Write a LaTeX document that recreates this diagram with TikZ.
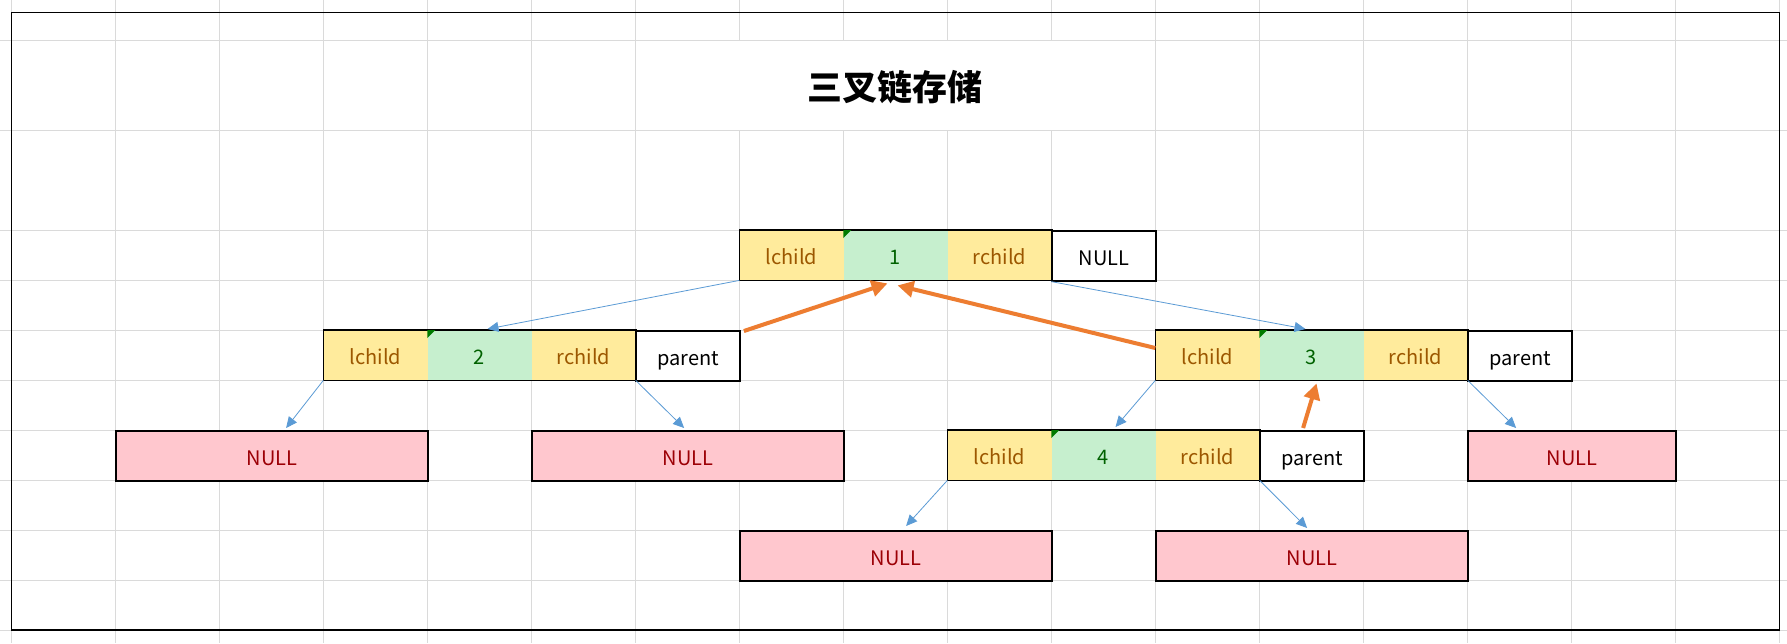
\documentclass[tikz,border=0pt]{standalone}
\usepackage{fontspec}
\setmainfont{Noto Sans CJK SC}
\usetikzlibrary{arrows.meta,calc}
\definecolor{gridc}{HTML}{DADADA}
\definecolor{yfill}{HTML}{FFEB9C}
\definecolor{ytext}{HTML}{9C5700}
\definecolor{gfill}{HTML}{C6EFCE}
\definecolor{gtext}{HTML}{006100}
\definecolor{pfill}{HTML}{FFC7CE}
\definecolor{ptext}{HTML}{9C0006}
\definecolor{blu}{HTML}{5B9BD5}
\definecolor{org}{HTML}{ED7D31}
\definecolor{tri}{HTML}{007A00}
\begin{document}
\begin{tikzpicture}[x=1pt,y=-1pt,
  cell/.style={minimum width=104pt, minimum height=50pt, inner sep=0pt, anchor=north west,
    text height=20pt, text depth=1.4pt, font=\fontsize{20}{24}\selectfont},
  ycell/.style={cell, fill=yfill, text=ytext},
  gcell/.style={cell, fill=gfill, text=gtext},
  wcell/.style={cell, fill=white, draw=black, line width=1.6pt, text=black},
  ncell/.style={cell, minimum width=#1, fill=pfill, draw=black, line width=1.6pt, text=ptext},
  grpbox/.style={draw=black, line width=1.6pt},
  gridline/.style={draw=gridc, line width=1pt},
  bluearrow/.style={draw=blu, line width=0.8pt, -{Triangle[length=11pt,width=10pt]}},
  orgarrow/.style={draw=org, line width=4pt, -{Triangle[length=16pt,width=16pt]}},
  marker/.style={fill=tri},
  titlestyle/.style={font=\fontsize{35}{40}\selectfont\bfseries, inner sep=0pt}
]
\useasboundingbox (0,0) rectangle (1787,643);
\fill[white] (0,0) rectangle (1787,643);
% grid
\foreach \i in {0,1,2,3,4,5,6,11,12,13,14,15,16,17}
  \draw[gridline] ({11.3+104*\i},0) -- ({11.3+104*\i},643);
\foreach \i in {7,8,9,10}{
  \draw[gridline] ({11.3+104*\i},0) -- ({11.3+104*\i},40);
  \draw[gridline] ({11.3+104*\i},130) -- ({11.3+104*\i},643);
}
\foreach \y in {40,130,230,280,330,380,430,480,530,580,630}
  \draw[gridline] (0,\y) -- (1787,\y);
% frame
\draw[line width=1.6pt] (11.3,12.3) rectangle (1779.3,630);
% title
\node[titlestyle] (title) at (895.3,87.5) {三叉链存储};

% node 1
\node[ycell] (n1l) at (739.3,230) {lchild};
\node[gcell] (n1v) at (843.3,230) {1};
\node[ycell] (n1r) at (947.3,230) {rchild};
\node[wcell] (n1n) at (1051.3,230) {NULL};
\draw[grpbox] (n1l.north west) rectangle (n1r.south east);
\fill[marker] (n1v.north west) -- ++(8,0) -- ++(-8,8) -- cycle;

% node 2
\node[ycell] (n2l) at (323.3,330) {lchild};
\node[gcell] (n2v) at (427.3,330) {2};
\node[ycell] (n2r) at (531.3,330) {rchild};
\node[wcell] (n2p) at (635.3,330) {parent};
\draw[grpbox] (n2l.north west) rectangle (n2r.south east);
\fill[marker] (n2v.north west) -- ++(8,0) -- ++(-8,8) -- cycle;

% node 3
\node[ycell] (n3l) at (1155.3,330) {lchild};
\node[gcell] (n3v) at (1259.3,330) {3};
\node[ycell] (n3r) at (1363.3,330) {rchild};
\node[wcell] (n3p) at (1467.3,330) {parent};
\draw[grpbox] (n3l.north west) rectangle (n3r.south east);
\fill[marker] (n3v.north west) -- ++(8,0) -- ++(-8,8) -- cycle;

% node 4
\node[ycell] (n4l) at (947.3,430) {lchild};
\node[gcell] (n4v) at (1051.3,430) {4};
\node[ycell] (n4r) at (1155.3,430) {rchild};
\node[wcell] (n4p) at (1259.3,430) {parent};
\draw[grpbox] (n4l.north west) rectangle (n4r.south east);
\fill[marker] (n4v.north west) -- ++(8,0) -- ++(-8,8) -- cycle;

% NULL boxes
\node[ncell=312pt] (na) at (115.3,430) {NULL};
\node[ncell=312pt] (nb) at (531.3,430) {NULL};
\node[ncell=208pt] (ne) at (1467.3,430) {NULL};
\node[ncell=312pt] (nc) at (739.3,530) {NULL};
\node[ncell=312pt] (nd) at (1155.3,530) {NULL};

% blue arrows
\draw[bluearrow] (n1l.south west) -- ($(n2v.north)+(8,-1)$);
\draw[bluearrow] (n1n.south west) -- ($(n3v.north)+(-6,-1)$);
\draw[bluearrow] (n2l.south west) -- ($(na.north)+(14,-2)$);
\draw[bluearrow] (n2r.south east) -- ($(nb.north)+(-4,-2)$);
\draw[bluearrow] (n3l.south west) -- ($(n4v.north)+(12,-3)$);
\draw[bluearrow] (n3r.south east) -- ($(ne.north)+(-56,-2)$);
\draw[bluearrow] (n4l.south west) -- ($(nc.north)+(10,-4)$);
\draw[bluearrow] (n4r.south east) -- ($(nd.north)+(-5,-2)$);

% orange arrows
\draw[orgarrow] ($(n2p.north east)+(3,1)$) -- ($(n1v.south)+(-8,3)$);
\draw[orgarrow] ($(n3l.north west)+(0,18)$) -- ($(n1v.south)+(2,5)$);
\draw[orgarrow] ($(n4p.north)+(-9,-2)$) -- ($(n3v.south)+(5,3)$);
\end{tikzpicture}
\end{document}
